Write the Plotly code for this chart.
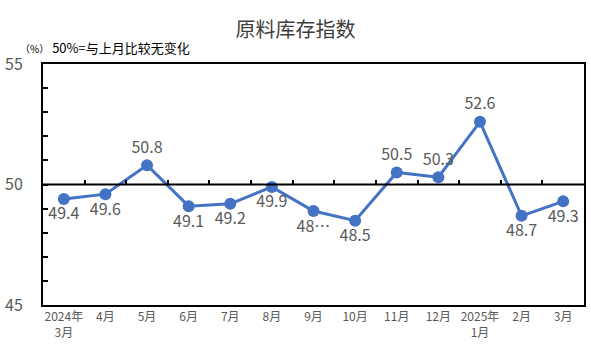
import plotly.graph_objects as go

categories = ["2024年<br>3月", "4月", "5月", "6月", "7月", "8月", "9月", "10月", "11月", "12月", "2025年<br>1月", "2月", "3月"]
values = [49.4, 49.6, 50.8, 49.1, 49.2, 49.9, 48.9, 48.5, 50.5, 50.3, 52.6, 48.7, 49.3]
labels = ["49.4", "49.6", "50.8", "49.1", "49.2", "49.9", "48…", "48.5", "50.5", "50.3", "52.6", "48.7", "49.3"]
positions = ["bottom center", "bottom center", "top center", "bottom center", "bottom center",
             "bottom center", "bottom center", "bottom center", "top center", "top center",
             "top center", "bottom center", "bottom center"]
y_ticks = [45, 50, 55]

FONT = "Noto Sans CJK SC"
idx = list(range(len(categories)))

fig = go.Figure()
fig.add_trace(go.Scatter(
    x=idx, y=values, mode="lines+markers+text",
    line=dict(color="#4472C4", width=3),
    marker=dict(color="#4472C4", size=12),
    text=labels, textposition=positions,
    textfont=dict(family=FONT, size=16, color="#595959"),
    cliponaxis=False, showlegend=False,
))
# baseline axis at 50 with boundary ticks
fig.add_trace(go.Scatter(x=[-0.5, 12.5], y=[50, 50], mode="lines",
                         line=dict(color="black", width=2), showlegend=False, hoverinfo="skip",
                         xaxis="x2"))

W, H = 591, 354
pl, pr, pt, pb = 43, 5, 64, 49
pw, ph = W - pl - pr, H - pt - pb

fig.update_layout(
    width=W, height=H,
    margin=dict(l=pl, r=pr, t=pt, b=pb),
    paper_bgcolor="white", plot_bgcolor="white",
    title=dict(text="原料库存指数", x=0.5, xanchor="center", y=1 - 30 / H, yanchor="middle",
               font=dict(family=FONT, size=20, color="#404040")),
    xaxis=dict(range=[-0.5, 12.5], tickmode="array", tickvals=idx, ticktext=categories,
               showgrid=False, zeroline=False, showline=True, linecolor="black", linewidth=2,
               mirror=True, ticks="", tickfont=dict(family=FONT, size=12, color="#595959")),
    xaxis2=dict(range=[-0.5, 12.5], overlaying="x", anchor="free", position=0.5, side="top",
                showline=False, showgrid=False, zeroline=False,
                tickmode="array", tickvals=[i + 0.5 for i in idx[:-1]],
                ticks="outside", ticklen=5, tickwidth=2, tickcolor="black", showticklabels=False),
    yaxis=dict(range=[45, 55], tickmode="array", tickvals=y_ticks, showgrid=False, zeroline=False,
               showline=True, linecolor="black", linewidth=2, mirror=True,
               ticks="inside", ticklen=5, tickwidth=2, tickcolor="black",
               minor=dict(dtick=1, ticks="inside", ticklen=5, tickwidth=2, tickcolor="black"),
               ticklabelstandoff=15,
               tickfont=dict(family=FONT, size=16, color="#595959")),
    annotations=[dict(text="<span style='font-size:10px'>（%）</span> 50%=与上月比较无变化",
                      x=(18 - pl) / pw, y=(H - pb - 47) / ph, xref="paper", yref="paper",
                      xanchor="left", yanchor="middle", showarrow=False,
                      font=dict(family=FONT, size=13, color="#000000"))],
)

fig.write_html("out.html")
